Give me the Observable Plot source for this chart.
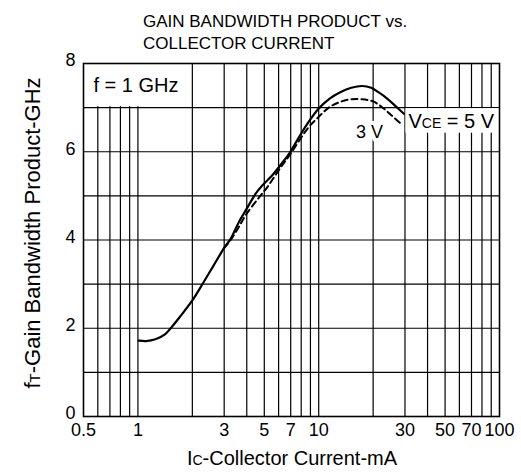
<!DOCTYPE html>
<html>
<head>
<meta charset="utf-8">
<script src="https://cdn.jsdelivr.net/npm/d3@7"></script>
<script src="https://cdn.jsdelivr.net/npm/@observablehq/plot@0.6"></script>
<style>
  html, body { margin: 0; padding: 0; background: #fff; }
  #chart { position: relative; width: 521px; height: 473px; }
  svg { font-family: "Liberation Sans", Arial, sans-serif; }
</style>
</head>
<body>
<div id="chart"></div>
<script>
// ---- data ----
const titleLines = ["GAIN BANDWIDTH PRODUCT vs.", "COLLECTOR CURRENT"];
const xTicks = [0.5, 1, 3, 5, 7, 10, 30, 50, 70, 100];
const xGrid = [0.6, 0.7, 0.8, 0.9, 1, 2, 3, 4, 5, 6, 7, 8, 9, 10, 20, 30, 40, 50, 60, 70, 80, 90];
const yTicks = [0, 2, 4, 6, 8];
const yGrid = [1, 2, 3, 4, 5, 6, 7];

// VCE = 5 V (solid)
const ic5 = [1.01, 1.11, 1.25, 1.41, 1.51, 1.7, 2.0, 2.29, 2.62, 3.0, 3.26, 3.62, 4.0, 4.48, 4.89, 5.52, 6.23, 6.9, 7.83, 8.74, 10.0, 11.45, 13.16, 15.14, 17.4, 19.5, 21.4, 24.0, 27.0, 29.6];
const ft5 = [1.72, 1.71, 1.75, 1.86, 1.99, 2.25, 2.63, 3.02, 3.42, 3.82, 4.03, 4.41, 4.71, 5.05, 5.24, 5.46, 5.73, 5.97, 6.35, 6.66, 6.98, 7.2, 7.35, 7.45, 7.49, 7.45, 7.35, 7.2, 7.01, 6.86];
// VCE = 3 V (dashed)
const ic3 = [3.0, 3.26, 3.62, 4.0, 4.69, 5.2, 6.1, 6.9, 8.74, 10, 11.45, 13.16, 15.14, 17.4, 20, 22.4, 25.2, 28.9];
const ft3 = [3.82, 4.0, 4.3, 4.6, 4.97, 5.2, 5.62, 5.92, 6.54, 6.79, 7.01, 7.13, 7.19, 7.19, 7.14, 7.01, 6.83, 6.61];

const s5 = ic5.map((x, i) => ({x, y: ft5[i]}));
const s3 = ic3.map((x, i) => ({x, y: ft3[i]}));

const fLabel = [{x: 0.5, y: 7.5, text: "f = 1 GHz"}];
const fBox = [{x1: 0.5, x2: 2, y1: 7, y2: 8}];
const vBox = [{x1: 30, x2: 100, y1: 6.42, y2: 7}];
const v3Label = [{x: 19.1, y: 6.44, text: "3 V"}];
const vLabelPos = {x: 30, y: 6.69};

const font = "'Liberation Sans', Arial, sans-serif";

const plot = Plot.plot({
  width: 521,
  height: 473,
  marginLeft: 83,
  marginRight: 22,
  marginTop: 63,
  marginBottom: 57,
  style: {fontFamily: font, fontSize: "18px", color: "#000", background: "#fff"},
  x: {type: "log", domain: [0.5, 100], axis: null},
  y: {domain: [0, 8], axis: null},
  marks: [
    Plot.ruleY(yGrid, {stroke: "#000", strokeWidth: 1.2}),
    Plot.ruleX(xGrid, {stroke: "#000", strokeWidth: 1.2}),
    Plot.rect(fBox, {x1: "x1", x2: "x2", y1: "y1", y2: "y2", fill: "#fff", insetRight: 1, insetBottom: 1}),
    Plot.rect(vBox, {x1: "x1", x2: "x2", y1: "y1", y2: "y2", fill: "#fff", insetLeft: 1, insetTop: 1}),
    Plot.frame({stroke: "#000", strokeWidth: 1.6}),
    Plot.axisY(yTicks, {tickSize: 0, tickPadding: 8, dy: -3, fontSize: 18, fill: "#000", label: null}),
    Plot.text(xTicks, {x: d => d, frameAnchor: "bottom", lineAnchor: "top", dy: 7, text: d => String(d), fontSize: 18, fill: "#000"}),
    Plot.line(s3, {x: "x", y: "y", stroke: "#000", strokeWidth: 2, strokeDasharray: "6,4", curve: "catmull-rom"}),
    Plot.line(s5, {x: "x", y: "y", stroke: "#000", strokeWidth: 2.2, curve: "catmull-rom"}),
    Plot.text(fLabel, {x: "x", y: "y", text: "text", textAnchor: "start", dx: 10, fontSize: 20, fill: "#000"}),
    Plot.text(v3Label, {x: "x", y: "y", text: "text", fontSize: 18, fill: "#000", stroke: "#fff", strokeWidth: 8})
  ]
});

document.getElementById("chart").appendChild(plot);

const svg = d3.select(plot);
const sx = plot.scale("x"), sy = plot.scale("y");

// title
svg.append("text")
  .attr("text-anchor", "start")
  .attr("font-size", 17).attr("font-family", font).attr("fill", "#000")
  .selectAll("tspan").data(titleLines).join("tspan")
  .attr("x", 143).attr("y", (d, i) => 27 + i * 22)
  .text(d => d);

// VCE = 5 V label
const vt = svg.append("text")
  .attr("text-anchor", "start")
  .attr("x", sx.apply(vLabelPos.x) + 4).attr("y", sy.apply(vLabelPos.y))
  .attr("dy", "0.35em")
  .attr("font-size", 20).attr("font-family", font).attr("fill", "#000");
vt.append("tspan").text("V");
vt.append("tspan").attr("font-size", 14).text("CE");
vt.append("tspan").text(" = 5 V");

// x axis label
const xl = svg.append("text")
  .attr("x", 292).attr("y", 465)
  .attr("text-anchor", "middle")
  .attr("font-size", 20).attr("font-family", font).attr("fill", "#000");
xl.append("tspan").text("I");
xl.append("tspan").attr("font-size", 14).text("C");
xl.append("tspan").text("-Collector Current-mA");

// y axis label
const yl = svg.append("text")
  .attr("transform", "translate(40,233) rotate(-90)")
  .attr("text-anchor", "middle")
  .attr("font-size", 22).attr("font-family", font).attr("fill", "#000");
yl.append("tspan").text("f");
yl.append("tspan").attr("font-size", 15).text("T");
yl.append("tspan").text("-Gain Bandwidth Product-GHz");
</script>
</body>
</html>
